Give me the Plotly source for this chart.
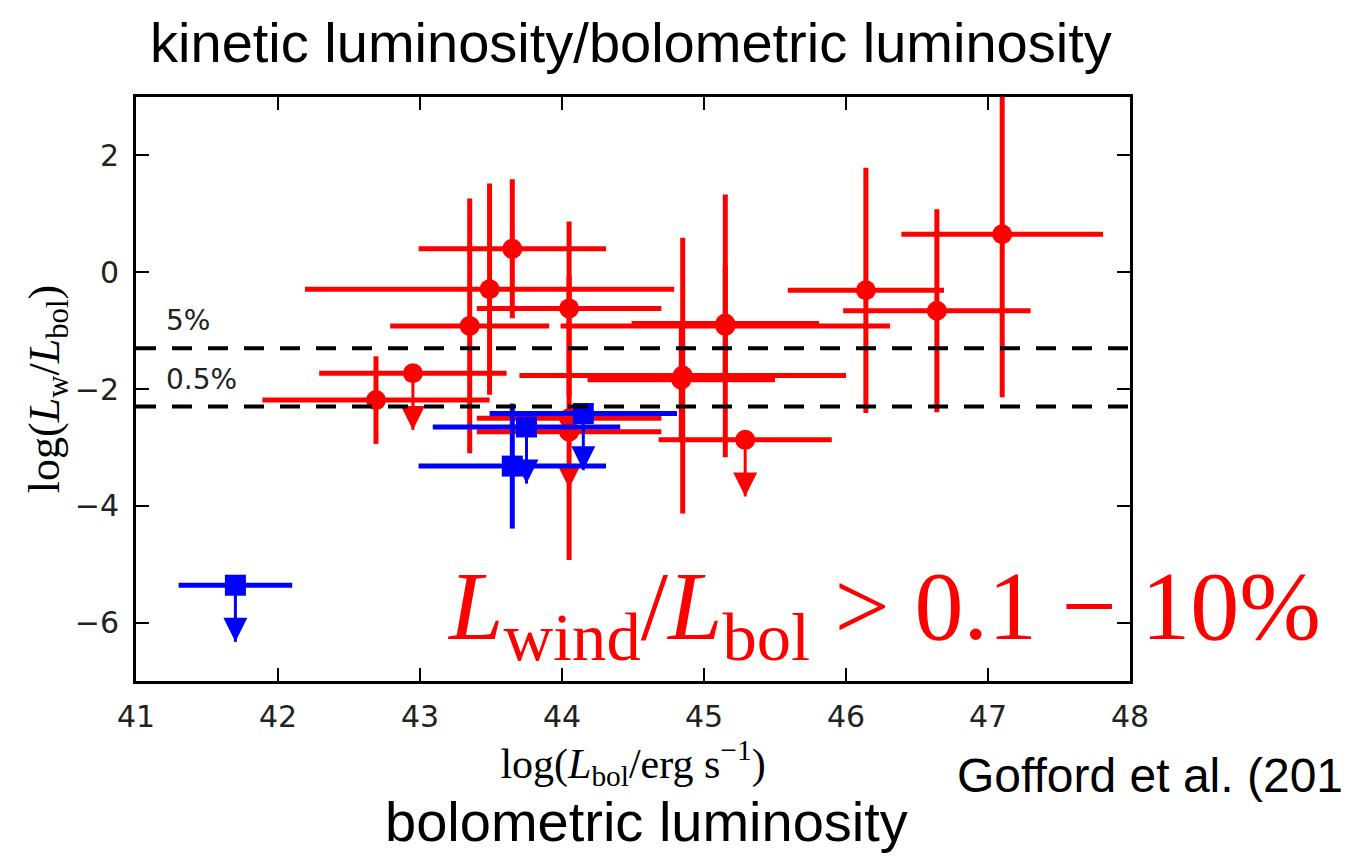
import plotly.graph_objects as go

# ---------------- data ----------------
# red circles: detections with 2-sided error bars
red_x    = [42.69, 43.35, 43.49, 43.65, 44.05, 44.05, 44.85, 44.84, 45.15, 45.15, 46.14, 46.64, 47.10]
red_y    = [-2.19, -0.92, -0.29, 0.40, -0.62, -2.50, -1.77, -1.84, -0.92, -0.88, -0.31, -0.66, 0.65]
red_xerr = [0.80, 0.56, 1.30, 0.66, 0.65, 0.65, 1.15, 0.66, 1.16, 0.66, 0.55, 0.66, 0.71]
red_yerr = [0.75, 2.18, 1.81, 1.19, 1.49, 2.43, 2.36, 1.00, 2.25, 1.00, 2.10, 1.74, 2.79]

# red circles: upper limits
red_ul_x    = [42.95, 44.05, 45.29]
red_ul_y    = [-1.73, -2.73, -2.87]
red_ul_xerr = [0.66, 0.65, 0.61]

# blue squares: detections
blue_x    = [43.65]
blue_y    = [-3.32]
blue_xerr = [0.66]
blue_yerr = [1.07]

# blue squares: upper limits
blue_ul_x    = [41.70, 43.75, 44.15]
blue_ul_y    = [-5.36, -2.65, -2.42]
blue_ul_xerr = [0.40, 0.66, 0.66]

ul_length = 0.97  # length of upper-limit arrows (dex)

ratio_levels = [-1.301, -2.301]   # log10(0.05), log10(0.005)
ratio_labels = ["5%", "0.5%"]

x_ticks = [41, 42, 43, 44, 45, 46, 47, 48]
y_ticks = [-6, -4, -2, 0, 2]
x_range = [41, 48]
y_range = [-7, 3]

RED = "#ff0000"
BLUE = "#0000ff"
TICKFONT = dict(family="DejaVu Sans", size=30, color="#222222")
SERIF = "Liberation Serif, DejaVu Serif, serif"
SANS = "Liberation Sans, Arial, sans-serif"

fig = go.Figure()


def arrows(xs, ys, color):
    lx, ly = [], []
    for x, y in zip(xs, ys):
        lx += [x, x, None]
        ly += [y, y - ul_length, None]
    fig.add_trace(go.Scatter(x=lx, y=ly, mode="lines",
                             line=dict(color=color, width=3), hoverinfo="skip"))
    fig.add_trace(go.Scatter(x=xs, y=[y - ul_length for y in ys], mode="markers",
                             marker=dict(symbol="arrow-down", size=24, color=color,
                                         line=dict(width=0)),
                             hoverinfo="skip"))


err = dict(type="data", thickness=5, width=0)

# red detections
fig.add_trace(go.Scatter(
    x=red_x, y=red_y, mode="markers",
    marker=dict(symbol="circle", size=20, color=RED, line=dict(width=0)),
    error_x=dict(err, array=red_xerr, color=RED),
    error_y=dict(err, array=red_yerr, color=RED)))

# red upper limits
arrows(red_ul_x, red_ul_y, RED)
fig.add_trace(go.Scatter(
    x=red_ul_x, y=red_ul_y, mode="markers",
    marker=dict(symbol="circle", size=20, color=RED, line=dict(width=0)),
    error_x=dict(err, array=red_ul_xerr, color=RED)))

# blue detections
fig.add_trace(go.Scatter(
    x=blue_x, y=blue_y, mode="markers",
    marker=dict(symbol="square", size=21, color=BLUE, line=dict(width=0)),
    error_x=dict(err, array=blue_xerr, color=BLUE),
    error_y=dict(err, array=blue_yerr, color=BLUE)))

# blue upper limits
arrows(blue_ul_x, blue_ul_y, BLUE)
fig.add_trace(go.Scatter(
    x=blue_ul_x, y=blue_ul_y, mode="markers",
    marker=dict(symbol="square", size=21, color=BLUE, line=dict(width=0)),
    error_x=dict(err, array=blue_ul_xerr, color=BLUE)))

# dashed reference lines
for lev in ratio_levels:
    fig.add_trace(go.Scatter(x=x_range, y=[lev, lev], mode="lines",
                             line=dict(color="black", width=4, dash="20px,16px"),
                             hoverinfo="skip"))

annotations = []
for lev, lab in zip(ratio_levels, ratio_labels):
    annotations.append(dict(x=41.2, y=lev + 0.47, xref="x", yref="y", text=lab,
                            showarrow=False, xanchor="left", yanchor="middle",
                            font=dict(family="DejaVu Sans", size=28, color="#222222")))

annotations.append(dict(
    x=46.27, y=-5.85, xref="x", yref="y", showarrow=False,
    xanchor="center", yanchor="middle",
    text="<i>L</i><sub>wind</sub>/<i>L</i><sub>bol</sub> > 0.1 \u2212 10%",
    font=dict(family=SERIF, size=98, color=RED)))

annotations.append(dict(
    x=0.514, y=-0.241, xref="paper", yref="paper", showarrow=False,
    xanchor="center", yanchor="middle", text="bolometric luminosity",
    font=dict(family=SANS, size=56, color="black")))

annotations.append(dict(
    x=0.824, y=-0.161, xref="paper", yref="paper", showarrow=False,
    xanchor="left", yanchor="middle", text="Gofford et al. (201",
    font=dict(family=SANS, size=48, color="black")))

fig.update_layout(
    width=1351, height=856,
    margin=dict(l=136, r=221, t=97, b=175),
    plot_bgcolor="white", paper_bgcolor="white",
    showlegend=False,
    title=dict(text="kinetic luminosity/bolometric luminosity",
               x=0.467, xref="container", xanchor="center",
               y=1 - 42 / 856, yref="container", yanchor="middle",
               font=dict(family=SANS, size=56, color="black")),
    annotations=annotations,
    xaxis=dict(range=x_range, tickvals=x_ticks, ticks="inside", ticklen=13, tickwidth=2,
               tickcolor="black", showline=True, linewidth=3, linecolor="black",
               mirror="ticks", showgrid=False, zeroline=False, tickfont=TICKFONT,
               ticklabelstandoff=7,
               title=dict(text="log(<i>L</i><sub>bol</sub>/erg s<sup>\u22121</sup>)",
                          font=dict(family=SERIF, size=42, color="black"), standoff=14)),
    yaxis=dict(range=y_range, tickvals=y_ticks, ticks="inside", ticklen=13, tickwidth=2,
               tickcolor="black", showline=True, linewidth=3, linecolor="black",
               mirror="ticks", showgrid=False, zeroline=False, tickfont=TICKFONT,
               ticklabelstandoff=8,
               title=dict(text="log(<i>L</i><sub>w</sub>/<i>L</i><sub>bol</sub>)",
                          font=dict(family=SERIF, size=44, color="black"), standoff=2)),
)

fig.write_html("out.html")
